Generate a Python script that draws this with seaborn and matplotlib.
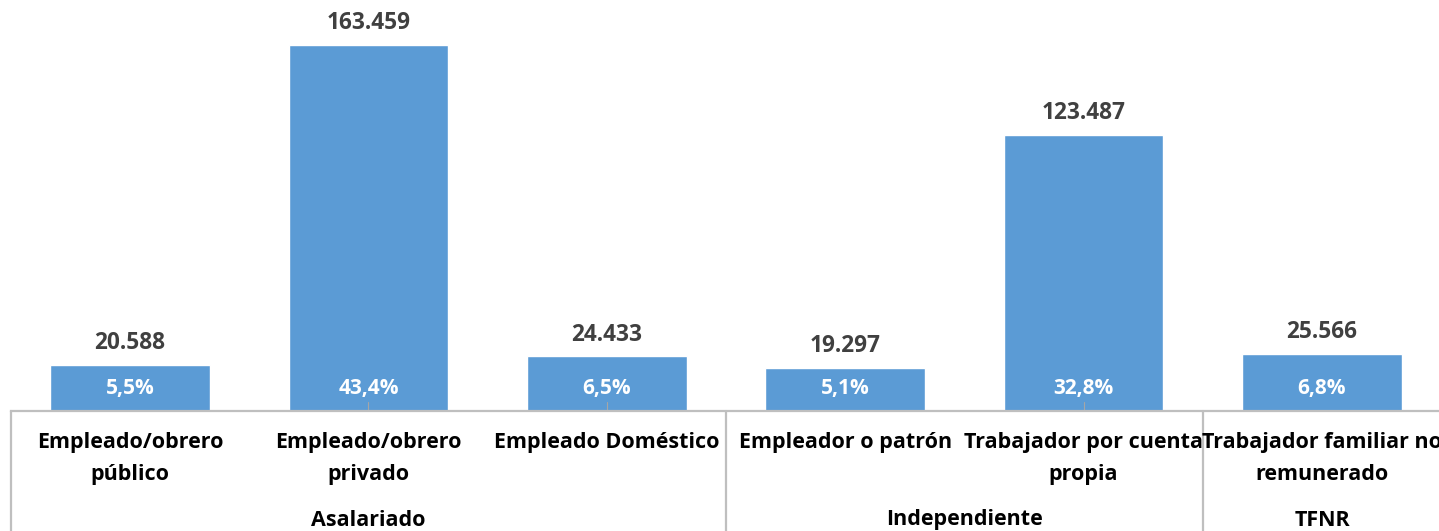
import matplotlib
matplotlib.use("Agg")
import matplotlib.pyplot as plt
import matplotlib.transforms as mtransforms
from matplotlib.lines import Line2D
import seaborn as sns
import pandas as pd

categories = ["Empleado/obrero\npúblico", "Empleado/obrero\nprivado", "Empleado Doméstico",
              "Empleador o patrón", "Trabajador por cuenta\npropia", "Trabajador familiar no\nremunerado"]
values = [20588, 163459, 24433, 19297, 123487, 25566]
percents = [5.5, 43.4, 6.5, 5.1, 32.8, 6.8]
groups = ["Asalariado", "Independiente", "TFNR"]
group_sizes = [3, 2, 1]

sns.set_theme(style="white")
plt.rcParams["font.family"] = ["Open Sans", "DejaVu Sans"]

W, H, DPI = 1439, 531, 100
fig = plt.figure(figsize=(W / DPI, H / DPI), dpi=DPI)
left_px, base_px = 10.8, 411
cat_w = 238.4
ax = fig.add_axes([left_px / W, (H - base_px) / H, cat_w * len(categories) / W, base_px / H])

df = pd.DataFrame({"cat": categories, "val": values})
sns.barplot(data=df, x="cat", y="val", color="#5B9BD5", saturation=1, width=0.67, ax=ax)
ax.set_ylim(0, 183560)
ax.set_xlim(-0.5, len(categories) - 0.5)
ax.set_xlabel("")
ax.set_ylabel("")
ax.set_xticks([])
ax.set_yticks([])
for s in ["top", "right", "left"]:
    ax.spines[s].set_visible(False)
ax.spines["bottom"].set_color("#BFBFBF")
ax.spines["bottom"].set_linewidth(1.6)
ax.spines["bottom"].set_zorder(5)


def fmt_thousands(v):
    return f"{v:,}".replace(",", ".")


for i, (v, p) in enumerate(zip(values, percents)):
    ax.annotate(fmt_thousands(v), (i, v), xytext=(0, 15.5), textcoords="offset points",
                ha="center", va="center", fontsize=16.3, fontweight="bold", color="#404040")
    ax.annotate(f"{p:.1f}%".replace(".", ","), (i, 0), xytext=(0, 16.5), textcoords="offset points",
                ha="center", va="center", fontsize=15, fontweight="bold", color="white")

# short leader lines (Excel label leader lines) for some bars
px_per_unit = base_px / 183560
for i in [1, 2, 4]:
    ax.add_line(Line2D([i, i], [0, 9 / px_per_unit], color="#A6A6A6", lw=0.8, zorder=4))

trans = mtransforms.blended_transform_factory(ax.transData, fig.transFigure)
for i, c in enumerate(categories):
    ax.text(i, 1 - 432 / H, c, transform=trans, ha="center", va="top", fontsize=15.5,
            fontweight="bold", color="black", linespacing=1.7)

start = 0
bounds = [-0.5]
for g, n in zip(groups, group_sizes):
    center = start + (n - 1) / 2
    ax.text(center, 1 - 520 / H, g, transform=trans, ha="center", va="center", fontsize=15.5,
            fontweight="bold", color="black")
    start += n
    bounds.append(start - 0.5)

for b in bounds:
    ax.add_line(Line2D([b, b], [1 - base_px / H, -0.05], transform=trans, color="#BFBFBF",
                       lw=1.6, clip_on=False))

fig.savefig("out.png", dpi=DPI)
